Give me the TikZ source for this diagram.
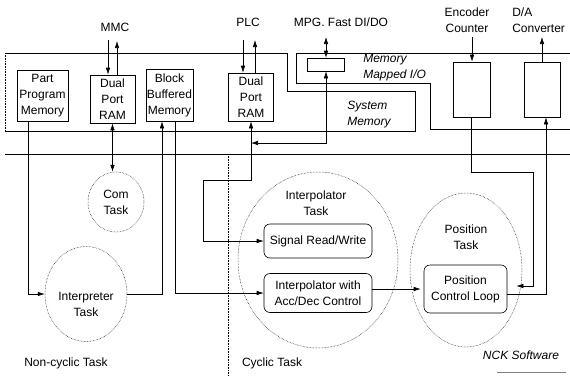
\documentclass[tikz,border=0pt]{standalone}
\usepackage{fontspec}
\setmainfont{Liberation Sans}
\usetikzlibrary{arrows.meta,shapes.geometric}

\begin{document}
\begin{tikzpicture}[x=1pt,y=-1pt,
    font=\fontsize{12}{16}\selectfont,
    line width=0.6pt,
    >={Latex[length=7pt,width=4.5pt]},
    box/.style={draw,align=center,inner sep=0.5pt},
    rbox/.style={box,rounded corners=6pt},
    task/.style={draw,ellipse,densely dotted,line width=0.5pt,inner sep=0pt,align=center},
    note/.style={align=left,inner sep=0pt,font=\fontsize{12}{16}\selectfont\itshape}]
    \useasboundingbox (0,0) rectangle (570,375);

    \draw (5,53) -- (287,53) -- (287,91) -- (415,91) -- (415,131) -- (5,131);
    \draw[densely dotted] (5,53) -- (5,131);
    \draw (570,53) -- (296,53) -- (296,83) -- (430,83) -- (430,129) -- (570,129);
    \draw (5,154) -- (570,154);
    \draw[densely dotted] (228,154) -- (228,375);
    \draw[gray] (497,372) -- (566,372);

    \node[box,minimum width=51pt,minimum height=51pt] (PPM) at (42.5,95.5) {Part\\Program\\Memory};
    \node[box,minimum width=45pt,minimum height=48pt] (DPR1) at (112.5,99) {Dual\\Port\\RAM};
    \node[box,minimum width=47pt,minimum height=52pt] (BBM) at (169.5,95) {Block\\Buffered\\Memory};
    \node[box,minimum width=45pt,minimum height=48pt] (DPR2) at (251,97) {Dual\\Port\\RAM};
    \node[box,minimum width=37pt,minimum height=13pt] (MMIO) at (326,64.5) {};
    \node[box,minimum width=37pt,minimum height=55pt] (ENC) at (471.5,89.5) {};
    \node[box,minimum width=36pt,minimum height=55pt] (DAC) at (542,89.5) {};

    \node (MMC) at (115,27) {MMC};
    \node (PLC) at (248,22) {PLC};
    \node (MPG) at (341,22) {MPG. Fast DI/DO};
    \node[align=center] (ENCl) at (467,20) {Encoder\\Counter};
    \node[align=left,inner sep=0pt,anchor=west] (DACl) at (512,20) {D/A\\Converter};
    \node[note,anchor=west] (MMl) at (363,68) {Memory\\Mapped I/O};
    \node[note,anchor=west] (SMl) at (347,115) {System\\Memory};

    \node[task,minimum width=56pt,minimum height=60pt] (COM) at (116,202) {Com\\Task};
    \node[task,minimum width=82pt,minimum height=95pt] (INT) at (86,294) {};
    \node[align=center] (INTl) at (86,304) {Interpreter\\Task};
    \node[task,minimum width=160pt,minimum height=176pt] (IPT) at (318,260) {};
    \node[align=center] (IPTl) at (316,203) {Interpolator\\Task};
    \node[task,minimum width=112pt,minimum height=154pt] (POS) at (466,270) {};
    \node[align=center] (POSl) at (466,237) {Position\\Task};

    \node[rbox,minimum width=108pt,minimum height=34pt] (SRW) at (318,241) {Signal Read/Write};
    \node[rbox,minimum width=108pt,minimum height=39pt] (IAD) at (318,293) {Interpolator with\\Acc/Dec Control};
    \node[rbox,minimum width=83pt,minimum height=48pt] (PCL) at (465.5,289) {Position\\Control Loop};

    \node (NC) at (66,363) {Non-cyclic Task};
    \node (CY) at (272,363) {Cyclic Task};
    \node[font=\fontsize{12}{16}\selectfont\itshape] (NCK) at (521,355) {NCK Software};

    \coordinate (mmcA) at (108,40);
    \coordinate (mmcB) at (117,41);
    \coordinate (plcA) at (243,40);
    \coordinate (plcB) at (255,40);
    \coordinate (mpgA) at (326,37);
    \coordinate (encA) at (472,37);
    \coordinate (dacA) at (542,37);
    \coordinate (sw) at (203,180);
    \coordinate (tap) at (326,143);
    \coordinate (ep) at (533,172);

    \draw[->] (mmcA) -- (mmcA |- DPR1.north);
    \draw[->] (mmcB |- DPR1.north) -- (mmcB);
    \draw[->] (plcA) -- (plcA |- DPR2.north);
    \draw[->] (plcB |- DPR2.north) -- (plcB);
    \draw[<->] (mpgA) -- (mpgA |- MMIO.north);
    \draw[->] (encA) -- (encA |- ENC.north);
    \draw[->] (DAC.north) -- (dacA);

    \draw[<->] (DPR1.south) -- (DPR1.south |- COM.north);
    \draw[->] ([xshift=-14.5pt]PPM.south) |- (INT.west);
    \draw[->] (INT.east) -| ([xshift=-7.5pt]BBM.south);
    \draw[->] ([xshift=5.5pt]BBM.south) |- (IAD.west);
    \draw[<->] (SRW.west) -| (sw) -| (DPR2.south);
    \draw[<->] (DPR2.south |- tap) -- (tap) -- (MMIO.south);
    \draw[->,shorten >=9pt] (ENC.south) |- (ep) |- ([yshift=3pt]PCL.east);
    \draw[->] ([yshift=-5pt]PCL.east) -| ([xshift=4pt]DAC.south);
    \draw[->,shorten >=3pt] (IAD.east |- PCL.west) -- (PCL.west);
\end{tikzpicture}
\end{document}
